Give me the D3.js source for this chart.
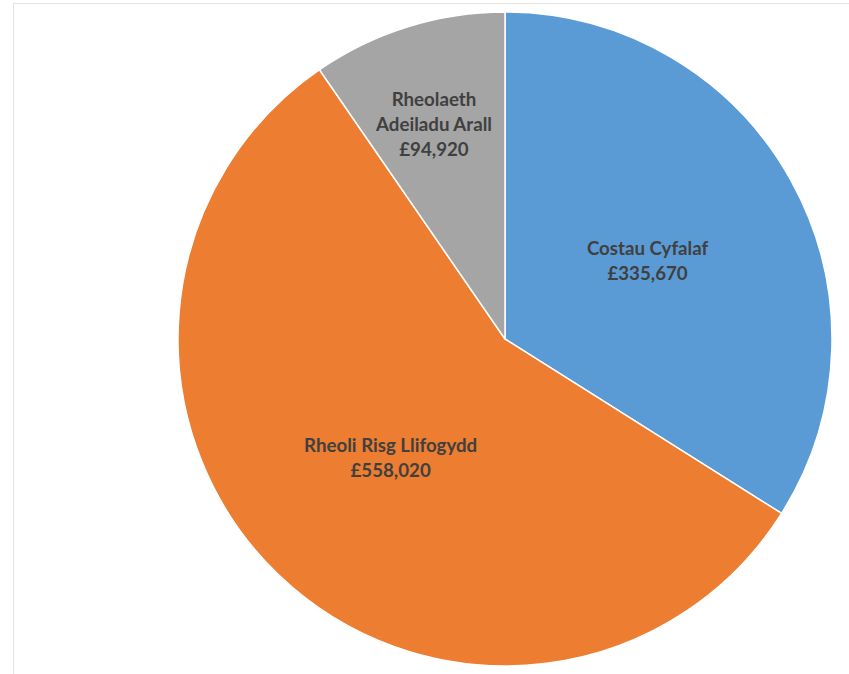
<!DOCTYPE html>
<html>
<head>
<meta charset="utf-8">
<script src="https://cdn.jsdelivr.net/npm/d3@7"></script>
<style>
  html, body { margin: 0; padding: 0; background: #fff; }
  svg { display: block; }
</style>
</head>
<body>
<svg id="chart" width="849" height="674"></svg>
<script>
const categories = ["Costau Cyfalaf", "Rheoli Risg Llifogydd", "Rheolaeth Adeiladu Arall"];
const values = [335670, 558020, 94920];
const colors = ["#5B9BD5", "#ED7D31", "#A5A5A5"];
// label text lines per slice (line-broken as in the original)
const labelLines = [["Costau Cyfalaf"], ["Rheoli Risg Llifogydd"], ["Rheolaeth", "Adeiladu Arall"]];

const svg = d3.select("#chart");
const W = 849, H = 674;

// chart area border
svg.append("rect")
  .attr("x", 13.5).attr("y", 3.5)
  .attr("width", W).attr("height", H)
  .attr("fill", "none").attr("stroke", "#e3e3e3").attr("stroke-width", 1);

const cx = 505, cy = 339, R = 327;
const labelRadiusFrac = [0.47, 0.505, 0.69];
const labelShift = [[8, -4], [0, 0], [-4, 1]];

const data = categories.map((c, i) => ({ name: c, value: values[i], color: colors[i], lines: labelLines[i], lr: labelRadiusFrac[i], sh: labelShift[i] }));

const pie = d3.pie().value(d => d.value).sort(null);
const arcs = pie(data);
const arc = d3.arc().innerRadius(0).outerRadius(R);

const g = svg.append("g").attr("transform", `translate(${cx},${cy})`);

g.selectAll("path.slice")
  .data(arcs)
  .join("path")
  .attr("class", "slice")
  .attr("d", arc)
  .attr("fill", d => d.data.color)
  .attr("stroke", "#fff")
  .attr("stroke-width", 1.5)
  .attr("stroke-linejoin", "round");

const fmt = v => "£" + d3.format(",")(v);
const lineH = 25;

arcs.forEach(a => {
  const lr = R * a.data.lr;
  const c = d3.arc().innerRadius(lr).outerRadius(lr).centroid(a);
  const x = c[0] + a.data.sh[0], y = c[1] + a.data.sh[1];
  const lines = a.data.lines.concat([fmt(a.data.value)]);
  const n = lines.length;
  const t = g.append("text")
    .attr("text-anchor", "middle")
    .attr("font-family", "Lato, 'Open Sans', sans-serif")
    .attr("font-weight", "bold")
    .attr("font-size", 18.7)
    .attr("fill", "#404040");
  lines.forEach((ln, i) => {
    t.append("tspan")
      .attr("x", x)
      .attr("y", y + (i - (n - 1) / 2) * lineH)
      .attr("dy", "0.35em")
      .text(ln);
  });
});
</script>
</body>
</html>
